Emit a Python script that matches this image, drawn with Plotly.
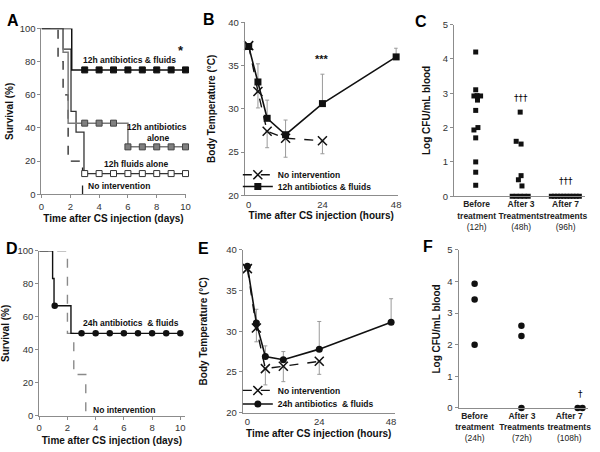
import plotly.graph_objects as go

# ---------------- Panel A: survival, 12h treatments ----------------
a_af_t = [0, 2.1, 10]
a_af_s = [100, 75, 75]
a_af_mt = [3, 4, 5, 6, 7, 8, 9, 10]
a_af_ms = [75, 75, 75, 75, 75, 75, 75, 75]

a_ab_t = [0, 1.5, 1.85, 6, 10]
a_ab_s = [100, 85.7, 42.9, 28.6, 28.6]
a_ab_mt = [3, 4, 5, 6, 7, 8, 9, 10]
a_ab_ms = [42.9, 42.9, 42.9, 28.6, 28.6, 28.6, 28.6, 28.6]

a_fl_t = [0, 1.5, 2.05, 2.4, 2.95, 10]
a_fl_s = [100, 87.5, 50, 37.5, 12.5, 12.5]
a_fl_mt = [3, 4, 5, 6, 7, 8, 9, 10]
a_fl_ms = [12.5, 12.5, 12.5, 12.5, 12.5, 12.5, 12.5, 12.5]

a_ni_t = [0, 1.15, 1.5, 1.85, 2.85]
a_ni_s = [100, 80, 60, 20, 0]

# ---------------- Panel B: temperature, 12h ----------------
b_ni_h = [0, 3, 6, 12, 24]
b_ni_T = [37.3, 32.0, 27.4, 26.6, 26.3]
b_ni_err = [0.3, 1.9, 1.9, 2.2, 1.5]
b_af_h = [0, 3, 6, 12, 24, 48]
b_af_T = [37.2, 33.1, 28.9, 27.0, 30.6, 36.0]
b_af_err = [0.3, 2.1, 2.1, 1.7, 3.4, 1.0]

# ---------------- Panel C: bacteremia, 12h ----------------
c_cats = ["<b>Before</b><br><b>treatment</b><br>(12h)",
          "<b>After 3</b><br><b>Treatments</b><br>(48h)",
          "<b>After 7</b><br><b>treatments</b><br>(96h)"]
c_x = [0.98, 0.98, 0.94, 1.01, 1.09, 1.02, 0.98, 1.03, 0.94, 0.98, 0.98, 0.98, 0.98,
       1.98, 1.89, 2.00, 2.00, 1.94, 2.02, 1.80, 1.89, 1.98, 2.07, 2.16,
       2.68, 2.75, 2.82, 2.89, 2.96, 3.03, 3.10, 3.17, 3.24, 3.31]
c_y = [4.2, 3.1, 2.92, 2.93, 2.92, 2.8, 2.5, 2.0, 1.93, 1.7, 1.0, 0.7, 0.32,
       2.45, 1.6, 1.52, 0.6, 0.48, 0.3, 0, 0, 0, 0, 0,
       0, 0, 0, 0, 0, 0, 0, 0, 0, 0]

# ---------------- Panel D: survival, 24h ----------------
d_af_t = [0, 0.95, 1.05, 2.25, 10]
d_af_s = [100, 83.3, 66.7, 50, 50]
d_af_mt = [1.1, 3, 4, 5, 6, 7, 8, 9, 10]
d_af_ms = [66.7, 50, 50, 50, 50, 50, 50, 50, 50]
d_ni_t = [0, 2.0, 2.45, 3.3]
d_ni_s = [100, 50, 25, 0]

# ---------------- Panel E: temperature, 24h ----------------
e_ni_h = [0, 3, 6, 12, 24]
e_ni_T = [37.7, 30.4, 25.4, 25.7, 26.3]
e_ni_err = [0.3, 1.7, 2.0, 1.9, 1.6]
e_af_h = [0, 3, 6, 12, 24, 48]
e_af_T = [38.0, 31.0, 26.9, 26.5, 27.8, 31.1]
e_af_err = [0.2, 1.7, 1.3, 1.0, 3.4, 2.9]

# ---------------- Panel F: bacteremia, 24h ----------------
f_cats = ["<b>Before</b><br><b>treatment</b><br>(24h)",
          "<b>After 3</b><br><b>Treatments</b><br>(72h)",
          "<b>After 7</b><br><b>treatments</b><br>(108h)"]
f_x = [1.0, 1.0, 1.0, 1.99, 1.99, 1.99, 3.18, 3.28]
f_y = [3.93, 3.43, 2.0, 2.6, 2.28, 0, 0, 0]

FONT = "Liberation Sans, Arial, sans-serif"
W, H = 600, 452
AX = "#8c8c8c"
ERR = "#9a9a9a"


def dx(a, b):
    return [a / W, b / W]


def dy(top, bottom):
    return [1 - bottom / H, 1 - top / H]


fig = go.Figure()

# ---- A ----
fig.add_trace(go.Scatter(x=a_ni_t, y=a_ni_s, mode="lines", line=dict(shape="hv", color="#222", width=1.3, dash="dash"),
                         xaxis="x", yaxis="y", showlegend=False))
fig.add_trace(go.Scatter(x=a_fl_t, y=a_fl_s, mode="lines", line=dict(shape="hv", color="#333", width=1.3),
                         xaxis="x", yaxis="y", showlegend=False))
fig.add_trace(go.Scatter(x=a_ab_t, y=a_ab_s, mode="lines", line=dict(shape="hv", color="#7a7a7a", width=1.5),
                         xaxis="x", yaxis="y", showlegend=False))
fig.add_trace(go.Scatter(x=a_af_t, y=a_af_s, mode="lines", line=dict(shape="hv", color="#111", width=1.5),
                         xaxis="x", yaxis="y", showlegend=False))
fig.add_trace(go.Scatter(x=a_fl_mt, y=a_fl_ms, mode="markers", cliponaxis=False,
                         marker=dict(symbol="square", size=6, color="white", line=dict(color="#333", width=1)),
                         xaxis="x", yaxis="y", showlegend=False))
fig.add_trace(go.Scatter(x=a_ab_mt, y=a_ab_ms, mode="markers", cliponaxis=False,
                         marker=dict(symbol="square", size=6, color="#808080", line=dict(color="#444", width=1)),
                         xaxis="x", yaxis="y", showlegend=False))
fig.add_trace(go.Scatter(x=a_af_mt, y=a_af_ms, mode="markers", cliponaxis=False,
                         marker=dict(symbol="square", size=6, color="#111", line=dict(color="#111", width=1)),
                         xaxis="x", yaxis="y", showlegend=False))

# ---- B ----
fig.add_trace(go.Scatter(x=b_ni_h, y=b_ni_T, mode="lines+markers", name="<b>No intervention</b>",
                         line=dict(color="#111", width=1.4, dash="dash"),
                         marker=dict(symbol="x-thin", size=9, line=dict(color="#111", width=1.5)),
                         error_y=dict(type="data", symmetric=False, array=[0] * 5, arrayminus=b_ni_err,
                                      color=ERR, thickness=1, width=2),
                         xaxis="x2", yaxis="y2", legend="legend", cliponaxis=False))
fig.add_trace(go.Scatter(x=b_af_h, y=b_af_T, mode="lines+markers", name="<b>12h antibiotics & fluids</b>",
                         line=dict(color="#111", width=1.6),
                         marker=dict(symbol="square", size=7, color="#111"),
                         error_y=dict(type="data", symmetric=False, array=b_af_err, arrayminus=[0] * 6,
                                      color=ERR, thickness=1, width=2),
                         xaxis="x2", yaxis="y2", legend="legend3", cliponaxis=False))

# ---- C ----
fig.add_trace(go.Scatter(x=c_x, y=c_y, mode="markers", cliponaxis=False,
                         marker=dict(symbol="square", size=5, color="#111"),
                         xaxis="x3", yaxis="y3", showlegend=False))

# ---- D ----
fig.add_trace(go.Scatter(x=d_ni_t, y=d_ni_s, mode="lines", line=dict(shape="hv", color="#8a8a8a", width=1.4, dash="dash"),
                         xaxis="x4", yaxis="y4", showlegend=False))
fig.add_trace(go.Scatter(x=d_af_t, y=d_af_s, mode="lines", line=dict(shape="hv", color="#111", width=1.4),
                         xaxis="x4", yaxis="y4", showlegend=False))
fig.add_trace(go.Scatter(x=d_af_mt, y=d_af_ms, mode="markers", cliponaxis=False,
                         marker=dict(symbol="circle", size=6.5, color="#111"),
                         xaxis="x4", yaxis="y4", showlegend=False))

# ---- E ----
fig.add_trace(go.Scatter(x=e_ni_h, y=e_ni_T, mode="lines+markers", name="<b>No intervention</b>",
                         line=dict(color="#111", width=1.4, dash="dash"),
                         marker=dict(symbol="x-thin", size=9, line=dict(color="#111", width=1.5)),
                         error_y=dict(type="data", symmetric=False, array=[0] * 5, arrayminus=e_ni_err,
                                      color=ERR, thickness=1, width=2),
                         xaxis="x5", yaxis="y5", legend="legend2", cliponaxis=False))
fig.add_trace(go.Scatter(x=e_af_h, y=e_af_T, mode="lines+markers", name="<b>24h antibiotics  & fluids</b>",
                         line=dict(color="#111", width=1.6),
                         marker=dict(symbol="circle", size=7, color="#111"),
                         error_y=dict(type="data", symmetric=False, array=e_af_err, arrayminus=[0] * 6,
                                      color=ERR, thickness=1, width=2),
                         xaxis="x5", yaxis="y5", legend="legend4", cliponaxis=False))

# ---- F ----
fig.add_trace(go.Scatter(x=f_x, y=f_y, mode="markers", cliponaxis=False,
                         marker=dict(symbol="circle", size=6.5, color="#111"),
                         xaxis="x6", yaxis="y6", showlegend=False))

tickfont = dict(family=FONT, size=9.5, color="#333")
titlefont = dict(family=FONT, size=10, color="#111")


def xa(dom, rng, anchor, title=None, tickvals=None, ticktext=None, ticks="outside", standoff=4, tfont=None):
    d = dict(domain=dom, range=rng, anchor=anchor, showline=True, linecolor=AX, linewidth=1, showgrid=False,
             zeroline=False, ticks=ticks, ticklen=3, tickcolor=AX, tickfont=tfont or tickfont, fixedrange=True,
             tickangle=0)
    if tickvals is not None:
        d["tickmode"] = "array"
        d["tickvals"] = tickvals
        d["ticktext"] = ticktext
    if title:
        d["title"] = dict(text=title, font=titlefont, standoff=standoff)
    return d


def ya(dom, rng, anchor, dtick, title, standoff):
    return dict(domain=dom, range=rng, anchor=anchor, dtick=dtick, showline=True, linecolor=AX, linewidth=1,
                showgrid=False, zeroline=False, ticks="outside", ticklen=3, tickcolor=AX, tickfont=tickfont,
                fixedrange=True, title=dict(text=title, font=titlefont, standoff=standoff))


catfont = dict(family=FONT, size=8.5, color="#222")
legfont = dict(family=FONT, size=8.5, color="#111")


def leg(px, py):
    return dict(x=px / W, y=1 - py / H, xanchor="left", yanchor="middle", bgcolor="rgba(0,0,0,0)",
                font=legfont, itemwidth=30, tracegroupgap=0, borderwidth=0)


layout = dict(
    width=W, height=H, margin=dict(l=0, r=0, t=0, b=0),
    paper_bgcolor="white", plot_bgcolor="white",
    font=dict(family=FONT, color="#111"),
    xaxis=xa(dx(39, 185), [0, 10], "y", "<b>Time after CS injection (days)</b>", list(range(0, 11, 2)),
             [str(v) for v in range(0, 11, 2)], standoff=4),
    yaxis=ya(dy(23, 193), [0, 100], "x", 20, "<b>Survival (%)</b>", 4),
    xaxis2=xa(dx(245, 400), [-1.3, 48.5], "y2", "<b>Time after CS injection (hours)</b>", [0, 24, 48],
              ["0", "24", "48"], ticks="", standoff=1),
    yaxis2=ya(dy(16.7, 194), [20, 40], "x2", 5, "<b>Body Temperature (°C)</b>", 10),
    xaxis3=xa(dx(457, 590), [0.49, 3.44], "y3", None, [1, 2, 3], c_cats, ticks="", tfont=catfont),
    yaxis3=ya(dy(19, 195), [0, 5], "x3", 1, "<b>Log CFU/mL blood</b>", 10),
    xaxis4=xa(dx(36.7, 184), [0, 10.3], "y4", "<b>Time after CS injection (days)</b>", list(range(0, 11, 2)),
              [str(v) for v in range(0, 11, 2)], standoff=4),
    yaxis4=ya(dy(251, 420), [0, 100], "x4", 20, "<b>Survival (%)</b>", 6),
    xaxis5=xa(dx(243, 397), [-1.55, 49.2], "y5", "<b>Time after CS injection (hours)</b>", [0, 24, 48],
              ["0", "24", "48"], ticks="", standoff=4),
    yaxis5=ya(dy(250, 416.7), [20, 40], "x5", 5, "<b>Body Temperature (°C)</b>", 16),
    xaxis6=xa(dx(461.7, 593), [0.66, 3.4], "y6", None, [1, 2, 3], f_cats, ticks="", tfont=catfont),
    yaxis6=ya(dy(250, 412), [0, 5], "x6", 1, "<b>Log CFU/mL blood</b>", 4),
    legend=leg(238, 173),
    legend3=leg(238, 185),
    legend2=leg(238, 394),
    legend4=leg(238, 408),
)
fig.update_layout(**layout)

lab = dict(family=FONT, size=8.5, color="#111")
big = dict(family=FONT, size=16, color="#000")
dag = dict(family="DejaVu Sans, Liberation Sans, sans-serif", size=9, color="#000")
annots = [
    dict(text="<b>A</b>", x=2 / W, y=1 - 4 / H, xref="paper", yref="paper", xanchor="left", yanchor="top",
         showarrow=False, font=big),
    dict(text="<b>B</b>", x=201 / W, y=1 - 3 / H, xref="paper", yref="paper", xanchor="left", yanchor="top",
         showarrow=False, font=big),
    dict(text="<b>C</b>", x=416 / W, y=1 - 5 / H, xref="paper", yref="paper", xanchor="left", yanchor="top",
         showarrow=False, font=big),
    dict(text="<b>D</b>", x=1 / W, y=1 - 238 / H, xref="paper", yref="paper", xanchor="left", yanchor="top",
         showarrow=False, font=big),
    dict(text="<b>E</b>", x=196 / W, y=1 - 238 / H, xref="paper", yref="paper", xanchor="left", yanchor="top",
         showarrow=False, font=big),
    dict(text="<b>F</b>", x=424 / W, y=1 - 236 / H, xref="paper", yref="paper", xanchor="left", yanchor="top",
         showarrow=False, font=big),
    # A labels
    dict(text="<b>12h antibiotics & fluids</b>", x=6.1, y=81, xref="x", yref="y", showarrow=False, font=lab),
    dict(text="<b>*</b>", x=9.66, y=87, xref="x", yref="y", showarrow=False, font=dict(family=FONT, size=13)),
    dict(text="<b>12h antibiotics</b>", x=8.0, y=40.5, xref="x", yref="y", showarrow=False, font=lab),
    dict(text="<b>alone</b>", x=8.1, y=34, xref="x", yref="y", showarrow=False, font=lab),
    dict(text="<b>12h fluids alone</b>", x=6.6, y=18.5, xref="x", yref="y", showarrow=False, font=lab),
    dict(text="<b>No intervention</b>", x=3.1, y=5, xref="x", yref="y", xanchor="left", showarrow=False, font=lab),
    # B
    dict(text="<b>***</b>", x=24, y=35.8, xref="x2", yref="y2", showarrow=False, font=dict(family=FONT, size=11)),
    # C
    dict(text="†††", x=2.0, y=2.85, xref="x3", yref="y3", showarrow=False, font=dag),
    dict(text="†††", x=3.0, y=0.45, xref="x3", yref="y3", showarrow=False, font=dag),
    # D
    dict(text="<b>24h antibiotics  & fluids</b>", x=6.5, y=56.5, xref="x4", yref="y4", showarrow=False, font=lab),
    dict(text="<b>No intervention</b>", x=3.7, y=3.5, xref="x4", yref="y4", xanchor="left", showarrow=False, font=lab),
    # F
    dict(text="†", x=3.23, y=0.45, xref="x6", yref="y6", showarrow=False, font=dag),
]
fig.update_layout(annotations=annots)

fig.write_html("out.html", post_script="document.body.style.margin='0px';",
               config={"displayModeBar": False})
